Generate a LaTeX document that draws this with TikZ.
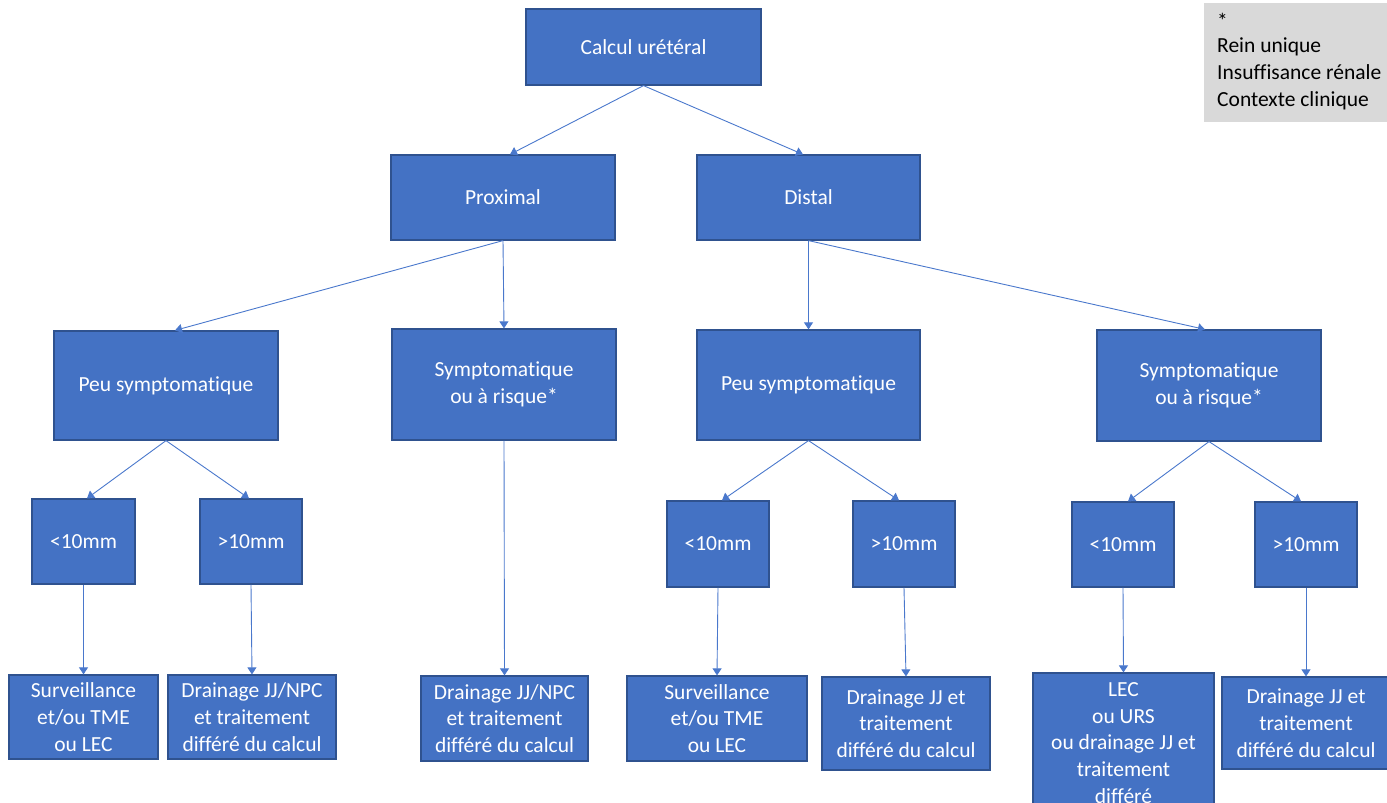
\documentclass[tikz,border=0pt]{standalone}
\usepackage{fontspec}
\setmainfont{Carlito}[Ligatures=NoCommon]
\usetikzlibrary{arrows.meta}
\definecolor{boxblue}{HTML}{4472C4}
\definecolor{boxedge}{HTML}{2F528F}
\definecolor{linkblue}{HTML}{4A78CC}
\definecolor{notegray}{HTML}{D9D9D9}
% "ti" written with a zero kern so that the two letters stay apart
\newcommand{\Symp}{Sympt\kern0pt omat\kern0pt ique}
\tikzset{
  box/.style={draw=boxedge, line width=1.2pt, fill=boxblue, text=white,
    align=center, inner sep=0pt, font=\fontsize{21.5}{26.7}\selectfont},
  link/.style={draw=linkblue, line width=0.9pt,
    -{Triangle[width=9pt,length=7pt]}},
}
\begin{document}
\begin{tikzpicture}[x=1pt, y=-1pt]
\useasboundingbox (0,0) rectangle (1387,803);

% level 0
\node[box, minimum width=235pt, minimum height=76pt] (calc) at (643.5,47) {Calcul urétéral};

% level 1
\node[box, minimum width=224pt, minimum height=85pt] (prox) at (503,197.5) {Proximal};
\node[box, minimum width=223pt, minimum height=85pt] (dist) at (808.5,197.5) {Distal};

% level 2
\node[box, minimum width=224pt, minimum height=109pt] (peuL) at (166,385.5) {Peu sympt\kern0pt omat\kern0pt ique};
\node[box, minimum width=224pt, minimum height=111pt] (symL) at (504,384.5) {\Symp\\ou à risque*};
\node[box, minimum width=223pt, minimum height=110pt] (peuR) at (808.5,385) {Peu sympt\kern0pt omat\kern0pt ique};
\node[box, minimum width=224pt, minimum height=111pt] (symR) at (1209,385.5) {\Symp\\ou à risque*};

% level 3: stone size
\node[box, minimum width=103pt, minimum height=85pt] (ltA) at (83.5,541.5) {<10mm};
\node[box, minimum width=102pt, minimum height=85pt] (gtA) at (251,541.5) {>10mm};
\node[box, minimum width=102pt, minimum height=86pt] (ltB) at (718,544) {<10mm};
\node[box, minimum width=102pt, minimum height=86pt] (gtB) at (904,544) {>10mm};
\node[box, minimum width=102pt, minimum height=85pt] (ltC) at (1123,544.5) {<10mm};
\node[box, minimum width=102pt, minimum height=85pt] (gtC) at (1306,544.5) {>10mm};

% level 4: treatment
\node[box, minimum width=149pt, minimum height=84pt] (survA) at (83.5,717) {Surveillance\\et/ou TME\\ou LEC};
\node[box, minimum width=168pt, minimum height=84pt] (drainA) at (252,717) {Drainage JJ/NPC\\et traitement\\différé du calcul};
\node[box, minimum width=167pt, minimum height=85pt] (drainS) at (504.5,718.5) {Drainage JJ/NPC\\et traitement\\différé du calcul};
\node[box, minimum width=180pt, minimum height=85pt] (survB) at (717,718.5) {Surveillance\\et/ou TME\\ou LEC};
\node[box, minimum width=168pt, minimum height=93pt] (drainB) at (906,723.5) {Drainage JJ et\\traitement\\différé du calcul};
\node[box, minimum width=181pt, minimum height=140pt] (lec) at (1123.5,743) {LEC\\ou URS\\ou drainage JJ et\\traitement\\différé};
\node[box, minimum width=168pt, minimum height=92pt] (drainC) at (1306,723) {Drainage JJ et\\traitement\\différé du calcul};

% note on risk factors
\node[fill=notegray, minimum width=186pt, minimum height=119pt, inner sep=0pt] (note) at (1297,62.5) {};
\node[anchor=north west, align=left, inner sep=0pt,
  font=\fontsize{21.5}{27}\selectfont] (notetext) at (1217,13)
  {\raisebox{-3pt}{*}\\Rein unique\\Insuffisance rénale\\Contexte clinique};

% connectors
\draw[link] (calc.south) -- ([xshift=7pt]prox.north);
\draw[link] (calc.south) -- ([xshift=-5.5pt]dist.north);
\draw[link] (prox.south) -- ([xshift=9pt]peuL.north);
\draw[link] (prox.south) -- (symL.north);
\draw[link] (dist.south) -- (peuR.north);
\draw[link] (dist.south) -- ([xshift=-4pt]symR.north);
\draw[link] (peuL.south) -- ([xshift=3.5pt]ltA.north);
\draw[link] (peuL.south) -- ([xshift=-2pt]gtA.north);
\draw[link] (peuR.south) -- ([xshift=4pt]ltB.north);
\draw[link] (peuR.south) -- ([xshift=-5pt]gtB.north);
\draw[link] (symR.south) -- ([xshift=5pt]ltC.north);
\draw[link] (symR.south) -- ([xshift=-5pt]gtC.north);
\draw[link] (symL.south) -- (drainS.north);
\draw[link] (ltA.south) -- (survA.north);
\draw[link] (gtA.south) -- (drainA.north);
\draw[link] (ltB.south) -- (survB.north);
\draw[link] (gtB.south) -- (drainB.north);
\draw[link] (ltC.south) -- (lec.north);
\draw[link] (gtC.south) -- (drainC.north);
\end{tikzpicture}
\end{document}
